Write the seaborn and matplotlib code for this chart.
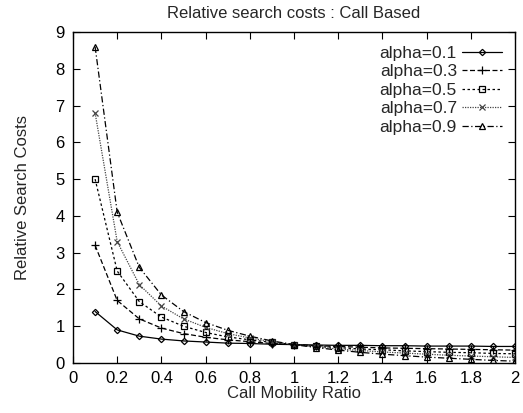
import matplotlib
matplotlib.use("Agg")
import matplotlib.pyplot as plt
import seaborn as sns
import pandas as pd

sns.set_style("ticks")
plt.rcParams['font.family'] = ['Liberation Sans', 'DejaVu Sans']

x_ratio = [0.1, 0.2, 0.3, 0.4, 0.5, 0.6, 0.7, 0.8, 0.9, 1.0,
           1.1, 1.2, 1.3, 1.4, 1.5, 1.6, 1.7, 1.8, 1.9, 2.0]
alpha_01 = [1.40, 0.90, 0.73, 0.65, 0.60, 0.57, 0.54, 0.53, 0.51, 0.50,
            0.49, 0.48, 0.48, 0.47, 0.47, 0.46, 0.46, 0.46, 0.45, 0.45]
alpha_03 = [3.20, 1.70, 1.20, 0.95, 0.80, 0.70, 0.63, 0.58, 0.53, 0.50,
            0.47, 0.45, 0.43, 0.41, 0.40, 0.39, 0.38, 0.37, 0.36, 0.35]
alpha_05 = [5.00, 2.50, 1.67, 1.25, 1.00, 0.83, 0.71, 0.63, 0.56, 0.50,
            0.45, 0.42, 0.38, 0.36, 0.33, 0.31, 0.29, 0.28, 0.26, 0.25]
alpha_07 = [6.80, 3.30, 2.13, 1.55, 1.20, 0.97, 0.80, 0.68, 0.58, 0.50,
            0.44, 0.38, 0.34, 0.30, 0.27, 0.24, 0.21, 0.19, 0.17, 0.15]
alpha_09 = [8.60, 4.10, 2.60, 1.85, 1.40, 1.10, 0.89, 0.73, 0.60, 0.50,
            0.42, 0.35, 0.29, 0.24, 0.20, 0.16, 0.13, 0.10, 0.07, 0.05]
series_labels = ["alpha=0.1", "alpha=0.3", "alpha=0.5", "alpha=0.7", "alpha=0.9"]
series_values = [alpha_01, alpha_03, alpha_05, alpha_07, alpha_09]

x_ticks = [0, 0.2, 0.4, 0.6, 0.8, 1, 1.2, 1.4, 1.6, 1.8, 2]
x_tick_labels = ["0", "0.2", "0.4", "0.6", "0.8", "1", "1.2", "1.4", "1.6", "1.8", "2"]
y_ticks = [0, 1, 2, 3, 4, 5, 6, 7, 8, 9]

styles = [
    dict(marker="D", ms=3.2, linestyle="-", color="black", lw=0.9),
    dict(marker="+", ms=5.5, linestyle=(0, (4, 2)), color="black", lw=0.9),
    dict(marker="s", ms=4.5, linestyle=(0, (2, 2)), color="black", lw=0.9),
    dict(marker="x", ms=4.5, linestyle=(0, (1, 1)), color="#444444", lw=0.9),
    dict(marker="^", ms=4.5, linestyle=(0, (5, 2, 1, 2)), color="black", lw=0.9),
]

fig = plt.figure(figsize=(5.23, 4.13), dpi=100)
ax = fig.add_axes([73/523, 1-363/413, (515-73)/523, (363-32)/413])

for lab, vals, st in zip(series_labels, series_values, styles):
    df = pd.DataFrame({"x": x_ratio, "y": vals})
    sns.lineplot(data=df, x="x", y="y", ax=ax, label=lab,
                 color=st["color"], marker=st["marker"], markersize=st["ms"],
                 linestyle=st["linestyle"], linewidth=st["lw"],
                 markerfacecolor="none", markeredgecolor=st["color"],
                 markeredgewidth=0.9)

ax.set_xlim(0, 2)
ax.set_ylim(0, 9)
ax.set_xticks(x_ticks)
ax.set_xticklabels(x_tick_labels)
ax.set_yticks(y_ticks)
ax.tick_params(direction="in", top=True, right=True, length=5, width=0.8,
               labelsize=12, colors="black", pad=6)
for sp in ax.spines.values():
    sp.set_linewidth(1.0)
    sp.set_color("black")
    sp.set_visible(True)

ax.set_xlabel("Call Mobility Ratio", fontsize=12, labelpad=0)
ax.set_ylabel("Relative Search Costs", fontsize=12, labelpad=18)
ax.set_title("Relative search costs : Call Based", fontsize=12, pad=10)

leg = ax.legend(loc="upper right", bbox_to_anchor=(0.9864, 0.979),
                frameon=False, markerfirst=False,
                fontsize=12.5, handlelength=2.3, handletextpad=0.3,
                labelspacing=0.19, borderaxespad=0.0, borderpad=0.4)

fig.savefig("out.png", dpi=100)
